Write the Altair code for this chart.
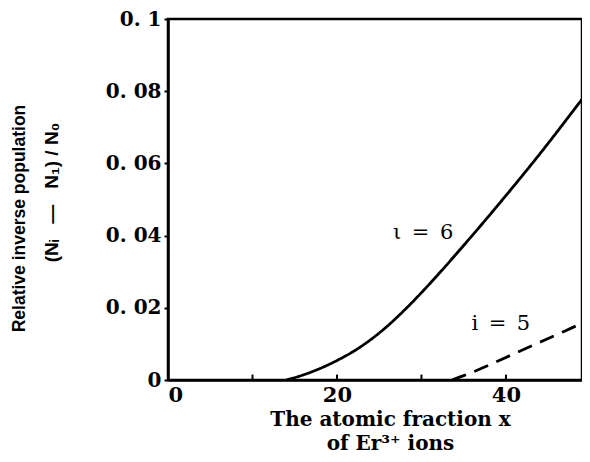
import altair as alt
import pandas as pd

# i = 6 curve (solid)
x6 = [14, 16, 18, 20, 22, 24, 26, 28, 30, 32, 34, 36, 38, 40, 42, 44, 46, 48, 50]
y6 = [0.0, 0.0014, 0.0032, 0.0054, 0.0080, 0.0112, 0.0150, 0.0194, 0.0242, 0.0293,
      0.0346, 0.0400, 0.0455, 0.0511, 0.0568, 0.0626, 0.0686, 0.0747, 0.0808]
# i = 5 curve (dashed)
x5 = [33.6, 35, 37, 39, 41, 43, 45, 47, 49, 50]
y5 = [0.0, 0.0012, 0.0031, 0.0052, 0.0073, 0.0094, 0.0115, 0.0136, 0.0157, 0.0167]

label_text = ["ι\u2002=\u20026", "i\u2002=\u20025"]
label_x = [30.2, 39.4]
label_y = [0.0406, 0.0155]

x_ticks = [0, 10, 20, 30, 40]
y_ticks = [0, 0.02, 0.04, 0.06, 0.08, 0.1]

df = pd.DataFrame(
    {"x": x6 + x5, "y": y6 + y5, "series": ["6"] * len(x6) + ["5"] * len(x5)}
)
lab = pd.DataFrame({"t": label_text, "x": label_x, "y": label_y})
tk = pd.DataFrame({"x": x_ticks[1:]})

SERIF = "DejaVu Serif"
SANS = "Liberation Sans"
NB = "\u00a0"

xs = alt.Scale(domain=[0, 49], nice=False)
ys = alt.Scale(domain=[0, 0.1], nice=False)

xaxis = alt.Axis(
    values=x_ticks,
    labelExpr="datum.value % 20 == 0 ? datum.value : ''",
    tickSize=0,
    grid=False,
    domain=True,
    domainColor="black",
    domainWidth=2.5,
    labelFont=SERIF,
    labelFontSize=21,
    labelFontWeight="bold",
    labelColor="black",
    labelPadding=4,
    title=["The atomic fraction x", "of Er³⁺ ions"],
    titleFont=SERIF,
    titleFontSize=20,
    titleFontWeight="bold",
    titleColor="black",
    titleX=222,
    titleY=29,
    titleBaseline="top",
    titleAlign="center",
    titleLineHeight=24,
)
yaxis = alt.Axis(
    values=y_ticks,
    labelExpr="datum.value == 0 ? '0' : replace(format(datum.value, '.2~f'), '.', '. ')",
    tickSize=4,
    tickWidth=2,
    tickColor="black",
    grid=False,
    domain=True,
    domainColor="black",
    domainWidth=2.5,
    labelFont=SERIF,
    labelFontSize=20,
    labelFontWeight="bold",
    labelColor="black",
    labelPadding=3,
    title="(Nᵢ" + NB * 3 + "—" + NB * 3 + "N₁)" + NB + "/" + NB + "N₀",
    titleFont=SANS,
    titleFontSize=19,
    titleFontWeight="bold",
    titleColor="black",
    titleX=-126,
    titleY=173,
    titleBaseline="top",
    titleAlign="center",
)

lines = alt.Chart(df).mark_line(
    color="black", strokeWidth=2.8, interpolate="monotone", clip=True
).encode(
    x=alt.X("x:Q", scale=xs, axis=xaxis),
    y=alt.Y("y:Q", scale=ys, axis=yaxis),
    detail="series:N",
    strokeDash=alt.StrokeDash(
        "series:N",
        scale=alt.Scale(domain=["6", "5"], range=[[1, 0], [15, 9]]),
        legend=None,
    ),
)

ticks = alt.Chart(tk).mark_rule(color="black", strokeWidth=2).encode(
    x=alt.X("x:Q", scale=xs),
    y=alt.datum(0),
    y2=alt.datum(0.0015),
)

labels = alt.Chart(lab).mark_text(
    font=SERIF, fontSize=21, color="black", align="center", baseline="middle"
).encode(x=alt.X("x:Q", scale=xs), y=alt.Y("y:Q", scale=ys), text="t:N")

chart = (
    alt.layer(lines, ticks, labels)
    .properties(
        width=414,
        height=361,
        autosize=alt.AutoSizeParams(type="none"),
        padding={"left": 160, "top": 11, "right": 0, "bottom": 74},
        title=alt.TitleParams(
            text="Relative inverse population",
            orient="left",
            anchor="middle",
            angle=270,
            font=SANS,
            fontSize=17.5,
            fontWeight="bold",
            color="black",
            offset=14,
            dx=-19,
        ),
    )
    .configure(background="white")
    .configure_view(stroke="black", strokeWidth=2.5)
)

chart.save("out.html", embed_options={"renderer": "svg", "actions": False})
